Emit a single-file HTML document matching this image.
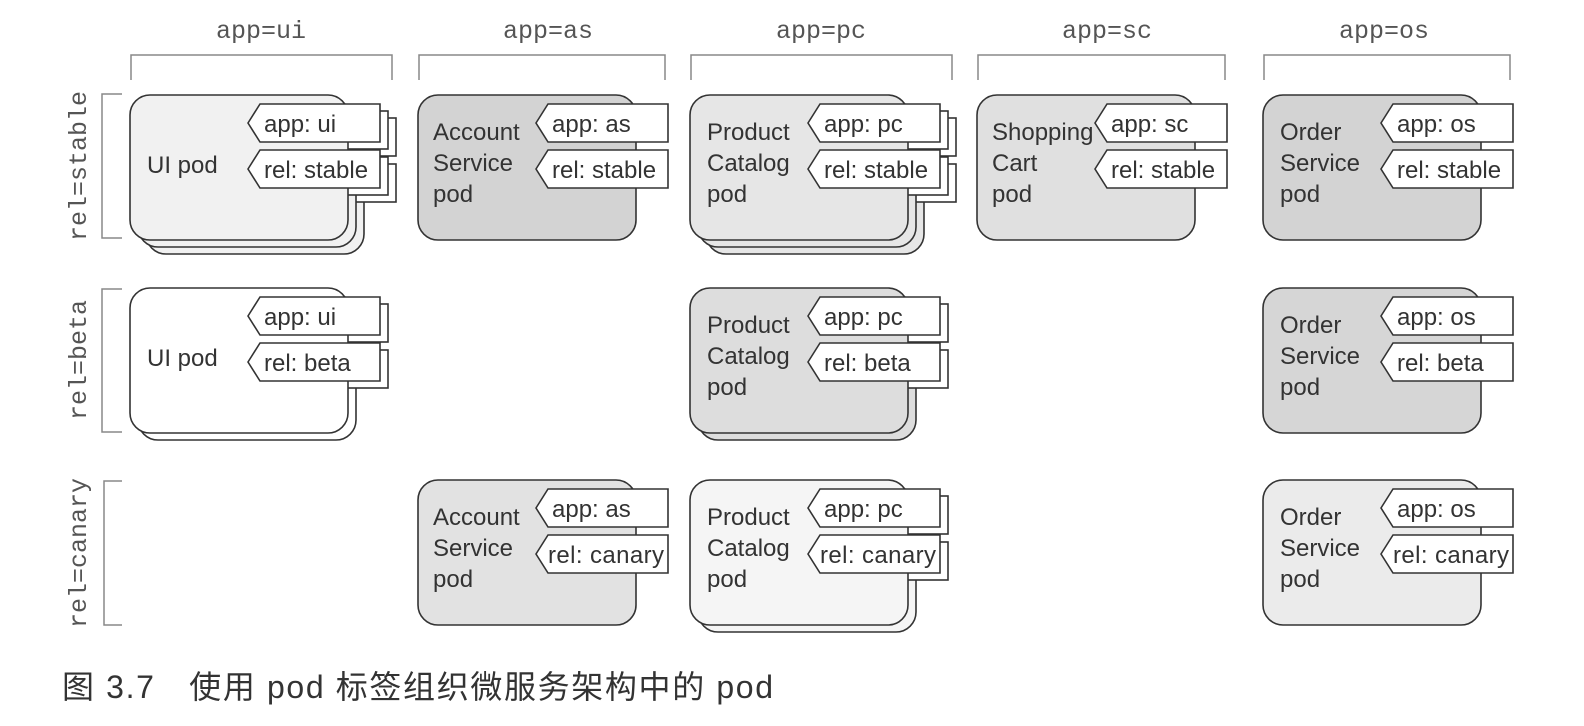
<!DOCTYPE html>
<html><head><meta charset="utf-8"><style>
html,body{margin:0;padding:0;background:#fff;}
svg{display:block}
.h{font-family:"Liberation Mono",monospace;font-size:25px;fill:#555}
.t{font-family:"Liberation Sans",sans-serif;font-size:24px;fill:#333}
.l{font-family:"Liberation Sans",sans-serif;font-size:24px;fill:#333}
.br{fill:none;stroke:#888;stroke-width:1.5}
.b{stroke:#333;stroke-width:1.6}
.tg{fill:#fff;stroke:#333;stroke-width:1.6}
</style></head><body>
<svg width="1584" height="726" viewBox="0 0 1584 726" xmlns="http://www.w3.org/2000/svg">
<defs>
<g id="back">
<rect x="0" y="0" width="218" height="145" rx="20" class="b"/>
<rect x="130" y="9" width="120" height="38" class="tg"/>
<rect x="130" y="55" width="120" height="38" class="tg"/>
</g>
<g id="tags">
<polygon points="118,28 130,9 250,9 250,47 130,47" class="tg"/>
<polygon points="118,74 130,55 250,55 250,93 130,93" class="tg"/>
</g>
</defs>
<text class="h" x="261" y="38" text-anchor="middle">app=ui</text>
<text class="h" x="548" y="38" text-anchor="middle">app=as</text>
<text class="h" x="821" y="38" text-anchor="middle">app=pc</text>
<text class="h" x="1107" y="38" text-anchor="middle">app=sc</text>
<text class="h" x="1384" y="38" text-anchor="middle">app=os</text>
<path class="br" d="M131 80V55H392V80"/>
<path class="br" d="M419 80V55H665V80"/>
<path class="br" d="M691 80V55H952V80"/>
<path class="br" d="M978 80V55H1225V80"/>
<path class="br" d="M1264 80V55H1510V80"/>
<path class="br" d="M122 94H102V238H122"/>
<path class="br" d="M122 289H102V432H122"/>
<path class="br" d="M122 481H104V625H122"/>
<text class="h" transform="translate(86,166) rotate(-90)" text-anchor="middle">rel=stable</text>
<text class="h" transform="translate(86,360) rotate(-90)" text-anchor="middle">rel=beta</text>
<text class="h" transform="translate(86,553) rotate(-90)" text-anchor="middle">rel=canary</text>

<g transform="translate(130,95)" fill="#f1f1f1">
<use href="#back" x="16" y="14"/><use href="#back" x="8" y="7"/>
<rect width="218" height="145" rx="20" class="b"/><use href="#tags"/>
<text class="l" x="17" y="78">UI pod</text>
<text class="t" x="134" y="37">app: ui</text><text class="t" x="134" y="83">rel: stable</text>
</g>
<g transform="translate(418,95)" fill="#d3d3d3">
<rect width="218" height="145" rx="20" class="b"/><use href="#tags"/>
<text class="l" x="15" y="45">Account</text><text class="l" x="15" y="76">Service</text><text class="l" x="15" y="107">pod</text>
<text class="t" x="134" y="37">app: as</text><text class="t" x="134" y="83">rel: stable</text>
</g>
<g transform="translate(690,95)" fill="#e6e6e6">
<use href="#back" x="16" y="14"/><use href="#back" x="8" y="7"/>
<rect width="218" height="145" rx="20" class="b"/><use href="#tags"/>
<text class="l" x="17" y="45">Product</text><text class="l" x="17" y="76">Catalog</text><text class="l" x="17" y="107">pod</text>
<text class="t" x="134" y="37">app: pc</text><text class="t" x="134" y="83">rel: stable</text>
</g>
<g transform="translate(977,95)" fill="#e0e0e0">
<rect width="218" height="145" rx="20" class="b"/><use href="#tags"/>
<text class="l" x="15" y="45">Shopping</text><text class="l" x="15" y="76">Cart</text><text class="l" x="15" y="107">pod</text>
<text class="t" x="134" y="37">app: sc</text><text class="t" x="134" y="83">rel: stable</text>
</g>
<g transform="translate(1263,95)" fill="#d3d3d3">
<rect width="218" height="145" rx="20" class="b"/><use href="#tags"/>
<text class="l" x="17" y="45">Order</text><text class="l" x="17" y="76">Service</text><text class="l" x="17" y="107">pod</text>
<text class="t" x="134" y="37">app: os</text><text class="t" x="134" y="83">rel: stable</text>
</g>

<g transform="translate(130,288)" fill="#ffffff">
<use href="#back" x="8" y="7"/>
<rect width="218" height="145" rx="20" class="b"/><use href="#tags"/>
<text class="l" x="17" y="78">UI pod</text>
<text class="t" x="134" y="37">app: ui</text><text class="t" x="134" y="83">rel: beta</text>
</g>
<g transform="translate(690,288)" fill="#dddddd">
<use href="#back" x="8" y="7"/>
<rect width="218" height="145" rx="20" class="b"/><use href="#tags"/>
<text class="l" x="17" y="45">Product</text><text class="l" x="17" y="76">Catalog</text><text class="l" x="17" y="107">pod</text>
<text class="t" x="134" y="37">app: pc</text><text class="t" x="134" y="83">rel: beta</text>
</g>
<g transform="translate(1263,288)" fill="#d6d6d6">
<rect width="218" height="145" rx="20" class="b"/><use href="#tags"/>
<text class="l" x="17" y="45">Order</text><text class="l" x="17" y="76">Service</text><text class="l" x="17" y="107">pod</text>
<text class="t" x="134" y="37">app: os</text><text class="t" x="134" y="83">rel: beta</text>
</g>

<g transform="translate(418,480)" fill="#e2e2e2">
<rect width="218" height="145" rx="20" class="b"/><use href="#tags"/>
<text class="l" x="15" y="45">Account</text><text class="l" x="15" y="76">Service</text><text class="l" x="15" y="107">pod</text>
<text class="t" x="134" y="37">app: as</text><text class="t" x="130" y="83" textLength="116">rel: canary</text>
</g>
<g transform="translate(690,480)" fill="#f5f5f5">
<use href="#back" x="8" y="7"/>
<rect width="218" height="145" rx="20" class="b"/><use href="#tags"/>
<text class="l" x="17" y="45">Product</text><text class="l" x="17" y="76">Catalog</text><text class="l" x="17" y="107">pod</text>
<text class="t" x="134" y="37">app: pc</text><text class="t" x="130" y="83" textLength="116">rel: canary</text>
</g>
<g transform="translate(1263,480)" fill="#ebebeb">
<rect width="218" height="145" rx="20" class="b"/><use href="#tags"/>
<text class="l" x="17" y="45">Order</text><text class="l" x="17" y="76">Service</text><text class="l" x="17" y="107">pod</text>
<text class="t" x="134" y="37">app: os</text><text class="t" x="130" y="83" textLength="116">rel: canary</text>
</g>

<text x="62" y="698" textLength="711" style="font-family:'Liberation Sans','Noto Sans CJK SC',sans-serif;font-size:32px;fill:#333">图 3.7　使用 pod 标签组织微服务架构中的 pod</text>
</svg>
</body></html>
